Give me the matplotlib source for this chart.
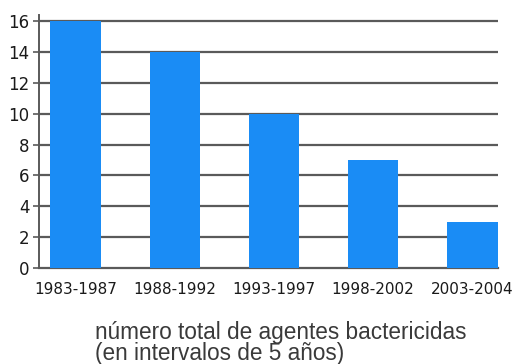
import matplotlib

matplotlib.use("Agg")
import matplotlib.pyplot as plt
import numpy as np

periods = ["1983-1987", "1988-1992", "1993-1997", "1998-2002", "2003-2004"]
agents = [16, 14, 10, 7, 3]
yticks = [0, 2, 4, 6, 8, 10, 12, 14, 16]

fig = plt.figure(figsize=(5.23, 3.64), dpi=100)
ax = fig.add_axes([39 / 523, 96 / 364, 459 / 523, 253 / 364])

x = np.arange(len(periods))
ax.bar(x, agents, width=0.51, color="#1a8cf5", zorder=3)
for y in yticks[1:]:
    ax.axhline(y, color="#5a5a5a", linewidth=1.6, zorder=1)

ax.set_xlim(-0.37, 4.26)
ax.set_ylim(0, 16.4)
ax.set_yticks(yticks)
ax.set_xticks(x)
ax.set_xticklabels(periods)

tick_font = ["Liberation Sans Narrow", "DejaVu Sans"]
for lab in ax.get_yticklabels():
    lab.set_family(tick_font)
    lab.set_fontsize(12)
for lab in ax.get_xticklabels():
    lab.set_family(tick_font)
    lab.set_fontsize(11)

ax.tick_params(axis="y", length=4, width=1.2, color="#5a5a5a", pad=3, labelcolor="#1a1a1a")
ax.tick_params(axis="x", length=0, pad=10, labelcolor="#1a1a1a")
for side in ["top", "right"]:
    ax.spines[side].set_visible(False)
ax.spines["left"].set_color("#5a5a5a")
ax.spines["left"].set_linewidth(1.4)
ax.spines["bottom"].set_color("#5a5a5a")
ax.spines["bottom"].set_linewidth(1.6)

fig.text(95 / 523, 1 - 343 / 364, "número total de agentes bactericidas\n(en intervalos de 5 años)",
         ha="left", va="center", fontsize=16.3, family="Liberation Sans",
         color="#3a3a3a", linespacing=0.85)

fig.savefig("out.png", dpi=100)
plt.close(fig)
